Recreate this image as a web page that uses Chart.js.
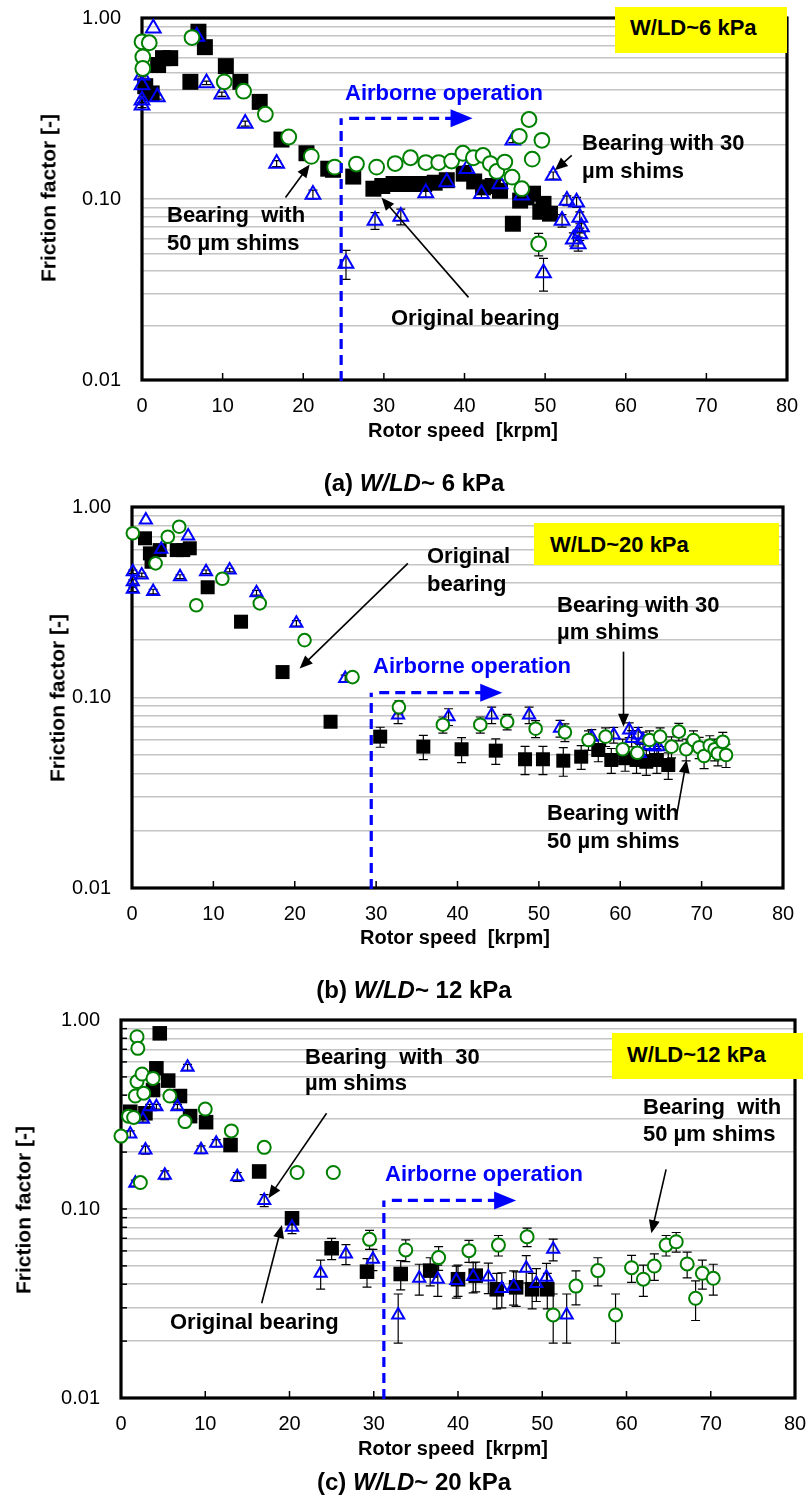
<!DOCTYPE html>
<html><head><meta charset="utf-8">
<script src="https://cdn.jsdelivr.net/npm/chart.js@4.4.1/dist/chart.umd.min.js"></script>
<style>
body{margin:0;background:#fff;width:811px;height:1502px;position:relative;overflow:hidden;font-family:"Liberation Sans",Arial,sans-serif;}
canvas{position:absolute;left:0;}
.t{position:absolute;white-space:pre;line-height:1;font-weight:bold;color:#000;transform:translateY(-50%);font-size:22px;z-index:3;}
.c{transform:translate(-50%,-50%);}
.yt{transform:translate(-50%,-50%) rotate(-90deg);}
.box{position:absolute;background:#ffff00;z-index:2;}
.blue{color:#0000ff}
</style></head><body>
<canvas id="cA" width="811" height="450" style="top:0px"></canvas>
<canvas id="cB" width="811" height="440" style="top:495px"></canvas>
<canvas id="cC" width="811" height="440" style="top:1005px"></canvas>

<!-- panel (a) texts -->
<div class="t yt" style="left:48px;top:198px;font-size:21px">Friction factor [-]</div>
<div class="t c" style="left:463px;top:430px;font-size:20px">Rotor speed  [krpm]</div>
<div class="t c" style="left:414px;top:483px;font-size:24px">(a) <i>W/LD</i>~ 6 kPa</div>
<div class="box" style="left:615px;top:7px;width:172px;height:46px"></div>
<div class="t" style="left:630px;top:28px">W/LD~6 kPa</div>
<div class="t blue" style="left:345px;top:93px">Airborne operation</div>
<div class="t" style="left:167px;top:215px">Bearing  with</div>
<div class="t" style="left:167px;top:243px">50 µm shims</div>
<div class="t" style="left:582px;top:143px">Bearing with 30</div>
<div class="t" style="left:582px;top:171px">µm shims</div>
<div class="t" style="left:391px;top:318px">Original bearing</div>

<!-- panel (b) texts -->
<div class="t yt" style="left:57px;top:698px;font-size:21px">Friction factor [-]</div>
<div class="t c" style="left:455px;top:937px;font-size:20px">Rotor speed  [krpm]</div>
<div class="t c" style="left:414px;top:990px;font-size:24px">(b) <i>W/LD</i>~ 12 kPa</div>
<div class="box" style="left:534px;top:523px;width:245px;height:42px"></div>
<div class="t" style="left:550px;top:545px">W/LD~20 kPa</div>
<div class="t blue" style="left:373px;top:666px">Airborne operation</div>
<div class="t" style="left:427px;top:556px">Original</div>
<div class="t" style="left:427px;top:584px">bearing</div>
<div class="t" style="left:557px;top:605px">Bearing with 30</div>
<div class="t" style="left:557px;top:632px">µm shims</div>
<div class="t" style="left:547px;top:813px">Bearing with</div>
<div class="t" style="left:547px;top:841px">50 µm shims</div>

<!-- panel (c) texts -->
<div class="t yt" style="left:23px;top:1210px;font-size:21px">Friction factor [-]</div>
<div class="t c" style="left:453px;top:1448px;font-size:20px">Rotor speed  [krpm]</div>
<div class="t c" style="left:414px;top:1482px;font-size:24px">(c) <i>W/LD</i>~ 20 kPa</div>
<div class="box" style="left:612px;top:1033px;width:191px;height:46px"></div>
<div class="t" style="left:627px;top:1055px">W/LD~12 kPa</div>
<div class="t blue" style="left:385px;top:1174px">Airborne operation</div>
<div class="t" style="left:305px;top:1057px">Bearing  with  30</div>
<div class="t" style="left:305px;top:1083px">µm shims</div>
<div class="t" style="left:170px;top:1322px">Original bearing</div>
<div class="t" style="left:643px;top:1107px">Bearing  with</div>
<div class="t" style="left:643px;top:1134px">50 µm shims</div>

<script>
// ---------- tick labels ----------
const xTickLabels = ['0','10','20','30','40','50','60','70','80'];
const yTickLabels = ['0.01','0.10','1.00'];
const yMajorValues = [0.01, 0.1, 1];

// ---------- panel (a) W/LD ~ 6 kPa ----------
const aOrigX = [0.4,1.2,2.0,2.6,3.5,6.0,7.0,7.8,10.4,12.2,14.6,17.3,20.4,23.1,23.7,26.2,28.7,29.8,31.2,32.5,33.8,35.0,36.3,37.8,39.9,41.2,42.3,43.5,44.4,46.0,46.9,47.7,48.5,49.4,49.8,50.6];
const aOrigY = [0.42,0.383,0.55,0.6,0.6,0.444,0.84,0.69,0.542,0.444,0.344,0.213,0.179,0.147,0.145,0.133,0.114,0.118,0.121,0.121,0.121,0.121,0.123,0.127,0.138,0.125,0.116,0.118,0.111,0.073,0.098,0.102,0.107,0.085,0.094,0.083];
const aOrigErr = [];
const a30X = [0,0,0,0,1.4,1.9,6.8,8.0,9.9,12.8,16.7,21.2,25.3,28.9,32.1,35.2,37.8,40.3,42.1,44.4,46.0,47.1,49.8,51.0,52.1,52.7,53.5,53.9,54.1,54.3,54.3,54.5];
const a30Y = [0.483,0.426,0.351,0.33,0.877,0.366,0.79,0.438,0.379,0.261,0.157,0.106,0.044,0.076,0.08,0.108,0.124,0.147,0.107,0.121,0.211,0.105,0.039,0.135,0.076,0.098,0.06,0.096,0.0565,0.079,0.064,0.07];
const a30Err = [0.01,0.01,0.01,0.01,0,0.01,0,0.01,0.01,0.008,0.006,0.006,0.008,0.008,0.008,0.006,0.006,0.006,0.006,0.006,0.006,0.006,0.008,0.006,0.006,0.006,0.005,0.006,0.005,0.006,0.005,0.005];
const a50X = [0,0.1,0.1,0.9,6.2,10.2,12.6,15.3,18.2,21.0,23.9,26.6,29.1,31.4,33.3,35.2,36.8,38.4,39.8,41.1,42.3,43.2,44.0,45.0,45.9,46.8,47.1,48.0,48.4,49.2,49.6];
const a50Y = [0.739,0.61,0.526,0.73,0.78,0.444,0.394,0.294,0.22,0.172,0.15,0.156,0.15,0.157,0.169,0.159,0.159,0.162,0.179,0.169,0.174,0.157,0.142,0.16,0.132,0.222,0.114,0.275,0.166,0.0565,0.211];
const a50Err = [0,0,0,0,0,0,0,0,0,0,0,0,0,0,0,0,0,0,0,0,0,0,0,0,0,0,0,0,0,0.008,0];

// ---------- panel (b) ----------
const bOrigX = [1.6,2.2,2.4,3.4,5.5,6.3,7.1,9.3,13.4,18.5,24.4,30.5,35.8,40.5,44.7,48.3,50.5,53.0,55.2,57.3,58.9,60.6,62.0,63.2,64.5,65.9];
const bOrigY = [0.685,0.571,0.516,0.594,0.594,0.594,0.607,0.379,0.25,0.136,0.0746,0.0623,0.0552,0.0535,0.0526,0.0474,0.0474,0.0466,0.0489,0.053,0.047,0.048,0.047,0.046,0.047,0.0442];
const bOrigErr = [0,0,0,0,0,0,0,0,0,0,0.004,0.0075,0.008,0.008,0.008,0.008,0.008,0.008,0.007,0.007,0.007,0.007,0.007,0.007,0.007,0.007];
const b30X = [0.1,0.1,0.1,1.2,1.7,2.6,3.6,5.9,6.9,9.1,12.0,15.3,20.2,26.2,32.7,38.9,44.2,48.8,52.6,56.5,59.2,61.1,61.4,62.2,62.4,62.8,63.6,64.2,64.7];
const b30Y = [0.457,0.405,0.37,0.44,0.855,0.36,0.6,0.431,0.705,0.457,0.467,0.355,0.245,0.126,0.081,0.0793,0.081,0.081,0.0689,0.0618,0.0636,0.0675,0.061,0.0636,0.0508,0.0598,0.056,0.0552,0.0552];
const b30Err = [0.01,0.01,0.01,0.01,0,0.01,0,0.01,0,0.01,0.01,0.01,0.008,0.005,0.008,0.008,0.008,0.008,0.007,0.006,0.006,0.006,0.006,0.006,0.006,0.006,0.006,0.006,0.006];
const b50X = [0.1,2.9,4.4,5.8,7.9,11.1,15.7,21.2,27.1,32.8,38.2,42.8,46.1,49.6,53.2,56.1,58.2,60.3,62.1,63.6,64.9,66.3,67.2,68.1,69.0,69.7,70.3,71.0,71.6,72.0,72.6,73.0];
const b50Y = [0.728,0.506,0.698,0.788,0.305,0.42,0.312,0.2,0.128,0.089,0.072,0.072,0.0746,0.0686,0.0657,0.0598,0.0623,0.0535,0.0513,0.0598,0.0623,0.0552,0.0662,0.0535,0.0598,0.0548,0.0493,0.056,0.0535,0.0508,0.0586,0.0499];
const b50Err = [0,0,0,0,0,0,0,0,0,0.007,0.007,0.007,0.007,0.007,0.007,0.007,0.007,0.007,0.007,0.007,0.007,0.007,0.007,0.007,0.007,0.007,0.007,0.007,0.007,0.007,0.007,0.007];

// ---------- panel (c) ----------
const cOrigX = [1.1,2.9,3.8,4.2,4.6,5.6,7.0,8.2,10.1,13.0,16.4,20.3,25.0,29.2,33.2,36.7,40.0,42.1,44.6,46.9,48.8,50.6];
const cOrigY = [0.327,0.321,0.426,0.555,0.85,0.478,0.396,0.31,0.288,0.218,0.158,0.0893,0.062,0.0466,0.0453,0.0472,0.0425,0.0444,0.0376,0.0385,0.0376,0.0376];
const cOrigErr = [0,0,0,0,0,0,0,0,0,0,0,0.005,0.008,0.008,0.008,0.008,0.008,0.008,0.008,0.008,0.008,0.008];
const c30X = [1.1,1.7,2.6,2.9,3.4,4.2,5.2,6.7,7.9,9.5,11.3,13.8,17.0,20.3,23.7,26.7,29.9,32.9,35.4,37.6,39.8,41.8,43.6,45.2,46.6,48.1,49.3,50.5,51.3,52.9];
const c30Y = [0.249,0.137,0.298,0.205,0.348,0.348,0.151,0.348,0.562,0.206,0.223,0.148,0.111,0.08,0.0457,0.0578,0.0542,0.0275,0.043,0.0425,0.0418,0.044,0.0437,0.038,0.039,0.0486,0.0404,0.0435,0.0612,0.0275];
const c30Err = [0.01,0.005,0.01,0.01,0.01,0.01,0.008,0.01,0.02,0.01,0.01,0.008,0.008,0.006,0.008,0.007,0.007,0.008,0.008,0.008,0.008,0.008,0.008,0.008,0.008,0.008,0.008,0.008,0.008,0.008];
const c50X = [0,0.9,1.5,1.7,1.9,1.9,2.0,2.3,2.5,2.7,3.8,5.8,7.6,10.0,13.1,17.0,20.9,25.2,29.5,33.8,37.7,41.3,44.8,48.2,51.3,54.0,56.6,58.7,60.6,62.0,63.3,64.7,65.9,67.2,68.2,69.0,70.3];
const c50Y = [0.243,0.31,0.305,0.396,0.816,0.472,0.708,0.138,0.518,0.41,0.491,0.396,0.29,0.338,0.259,0.212,0.156,0.156,0.0691,0.0607,0.0553,0.0602,0.0644,0.0713,0.0275,0.0391,0.0472,0.0275,0.0489,0.0425,0.0499,0.0644,0.0671,0.0512,0.0337,0.0457,0.043];
const c50Err = [0,0,0,0,0,0,0,0,0,0,0,0,0,0,0,0,0,0,0.008,0.008,0.008,0.008,0.008,0.008,0.008,0.008,0.008,0.008,0.008,0.008,0.008,0.008,0.008,0.008,0.008,0.008,0.008];

// ---------- airborne threshold (speed, friction at arrow, arrow end speed) ----------
const airborneA = [24.7, 0.279, 41.0];
const airborneB = [29.4, 0.106, 45.5];
const airborneC = [31.2, 0.111, 46.9];

// ---------- annotation arrows [fromX, fromY, toX, toY] in data units ----------
const arrowsA = [[17.8,0.102,20.8,0.155],[53.3,0.174,51.2,0.144],[40.5,0.0286,29.7,0.102]];
const arrowsB = [[33.9,0.506,20.6,0.142],[60.4,0.174,60.4,0.0703],[66.9,0.0237,68.15,0.047]];
const arrowsC = [[24.4,0.321,17.5,0.114],[16.7,0.0317,19.1,0.0823],[64.7,0.162,62.95,0.0744]];

// ---------- helpers ----------
const toPts = (xs, ys) => xs.map((x, i) => ({x: x, y: ys[i]}));
const yTickValues = [];
[0.01, 0.1].forEach(d => { for (let m = 1; m < 10; m++) yTickValues.push(+(m * d).toPrecision(3)); });
yTickValues.push(1);

function arrowHead(ctx, x1, y1, x2, y2, len, half) {
  const a = Math.atan2(y2 - y1, x2 - x1);
  const c = Math.cos(a), s = Math.sin(a);
  ctx.beginPath();
  ctx.moveTo(x2, y2);
  ctx.lineTo(x2 - len * c + half * s, y2 - len * s - half * c);
  ctx.lineTo(x2 - len * c - half * s, y2 - len * s + half * c);
  ctx.closePath();
  ctx.fill();
}

function makeChart(id, p) {
  const overlay = {
    id: 'overlay',
    beforeDatasetsDraw(chart) {
      const {ctx, chartArea: ca} = chart;
      ctx.save();
      ctx.strokeStyle = '#000';
      ctx.lineWidth = 3.2;
      ctx.strokeRect(ca.left, ca.top, ca.right - ca.left, ca.bottom - ca.top);
      const xs = chart.scales.x;
      ctx.lineWidth = 1.5;
      for (let v = 10; v < 80; v += 10) {
        const px = xs.getPixelForValue(v);
        ctx.beginPath(); ctx.moveTo(px, ca.bottom); ctx.lineTo(px, ca.bottom - 7); ctx.stroke();
      }
      if (p.yMinorTicks) {
        const ys = chart.scales.y;
        yTickValues.forEach(v => {
          const py = ys.getPixelForValue(v);
          ctx.beginPath(); ctx.moveTo(ca.left, py); ctx.lineTo(ca.left + 6, py); ctx.stroke();
        });
      }
      ctx.restore();
    },
    afterDatasetDraw(chart, args) {
      if (args.index !== 2) return;
      const {ctx} = chart;
      const xs = chart.scales.x, ys = chart.scales.y;
      ctx.save();
      ctx.strokeStyle = '#000';
      ctx.lineWidth = 1.2;
      p.series.forEach(s => {
        s.err.forEach((e, i) => {
          if (!e) return;
          const px = xs.getPixelForValue(s.x[i]);
          const top = ys.getPixelForValue(s.y[i] + e);
          const bot = ys.getPixelForValue(Math.max(s.y[i] - e, 0.0101));
          ctx.beginPath();
          ctx.moveTo(px, top); ctx.lineTo(px, bot);
          ctx.moveTo(px - 4.5, top); ctx.lineTo(px + 4.5, top);
          ctx.moveTo(px - 4.5, bot); ctx.lineTo(px + 4.5, bot);
          ctx.stroke();
        });
      });
      ctx.restore();
    },
    afterDatasetsDraw(chart) {
      const {ctx, chartArea: ca} = chart;
      const xs = chart.scales.x, ys = chart.scales.y;
      ctx.save();
      const [ax, ay, aend] = p.airborne;
      const px = xs.getPixelForValue(ax), py = ys.getPixelForValue(ay), pe = xs.getPixelForValue(aend);
      ctx.strokeStyle = '#0000ff'; ctx.fillStyle = '#0000ff';
      ctx.lineWidth = 3.2;
      ctx.setLineDash([10, 6]);
      ctx.beginPath(); ctx.moveTo(px, ca.bottom + 1); ctx.lineTo(px, py); ctx.stroke();
      ctx.beginPath(); ctx.moveTo(px + 8, py); ctx.lineTo(pe - 20, py); ctx.stroke();
      ctx.setLineDash([]);
      arrowHead(ctx, px, py, pe, py, 22, 9);
      ctx.strokeStyle = '#000'; ctx.fillStyle = '#000'; ctx.lineWidth = 1.6;
      p.arrows.forEach(a => {
        const x1 = xs.getPixelForValue(a[0]), y1 = ys.getPixelForValue(a[1]);
        const x2 = xs.getPixelForValue(a[2]), y2 = ys.getPixelForValue(a[3]);
        const ang = Math.atan2(y2 - y1, x2 - x1);
        ctx.beginPath(); ctx.moveTo(x1, y1); ctx.lineTo(x2 - 8 * Math.cos(ang), y2 - 8 * Math.sin(ang)); ctx.stroke();
        arrowHead(ctx, x1, y1, x2, y2, 13, 5.5);
      });
      ctx.restore();
    }
  };

  const [sOrig, s30, s50] = p.series;
  return new Chart(document.getElementById(id), {
    type: 'scatter',
    data: {
      datasets: [
        {label: 'Bearing with 50 µm shims', data: toPts(s50.x, s50.y), pointStyle: 'circle', pointRadius: p.rCircle,
         pointBackgroundColor: '#ffffff', pointBorderColor: '#008000', pointBorderWidth: 2, clip: false},
        {label: 'Bearing with 30 µm shims', data: toPts(s30.x, s30.y), pointStyle: 'triangle', pointRadius: p.rTri,
         pointBackgroundColor: 'rgba(0,0,0,0)', pointBorderColor: '#0000ff', pointBorderWidth: 2, clip: false},
        {label: 'Original bearing', data: toPts(sOrig.x, sOrig.y), pointStyle: 'rect', pointRadius: p.rRect,
         pointBackgroundColor: '#000000', pointBorderColor: '#000000', pointBorderWidth: 0, clip: false}
      ]
    },
    options: {
      responsive: false, animation: false, devicePixelRatio: 1, events: [],
      layout: {padding: {left: 0, top: p.padTop, right: p.padRight, bottom: 0}},
      plugins: {legend: {display: false}, tooltip: {enabled: false}},
      scales: {
        x: {
          type: 'linear', min: 0, max: 80,
          afterFit: s => { s.height = p.xH; s.paddingLeft = 0; s.paddingRight = 0; },
          ticks: {stepSize: 10, color: '#000', font: {family: 'Liberation Sans', size: 20}, padding: p.xPad,
                  callback: (v) => xTickLabels[Math.round(v / 10)]},
          grid: {display: false, drawTicks: false},
          border: {display: false}
        },
        y: {
          type: 'logarithmic', min: 0.01, max: 1,
          afterFit: s => { s.width = p.yW; s.paddingTop = 0; s.paddingBottom = 0; },
          afterBuildTicks: s => { s.ticks = yTickValues.map(v => ({value: v})); },
          ticks: {autoSkip: false, color: '#000', font: {family: 'Liberation Sans', size: 20}, padding: p.yPad,
                  callback: (v) => {
                    const k = yMajorValues.findIndex(m => Math.abs(v - m) / m < 1e-6);
                    return k >= 0 ? yTickLabels[k] : '';
                  }},
          grid: {color: '#c4c4c4', lineWidth: 1.5, drawTicks: false},
          border: {display: false}
        }
      }
    },
    plugins: [overlay]
  });
}

makeChart('cA', {
  series: [{x: aOrigX, y: aOrigY, err: aOrigErr}, {x: a30X, y: a30Y, err: a30Err}, {x: a50X, y: a50Y, err: a50Err}],
  airborne: airborneA, arrows: arrowsA,
  padTop: 18, padRight: 24, xH: 70, yW: 142, xPad: 14, yPad: 21,
  rCircle: 7.4, rTri: 8.5, rRect: 11.3, yMinorTicks: false
});
makeChart('cB', {
  series: [{x: bOrigX, y: bOrigY, err: bOrigErr}, {x: b30X, y: b30Y, err: b30Err}, {x: b50X, y: b50Y, err: b50Err}],
  airborne: airborneB, arrows: arrowsB,
  padTop: 12, padRight: 28, xH: 47, yW: 132, xPad: 14, yPad: 21,
  rCircle: 6.3, rTri: 7, rRect: 9.9, yMinorTicks: false
});
makeChart('cC', {
  series: [{x: cOrigX, y: cOrigY, err: cOrigErr}, {x: c30X, y: c30Y, err: c30Err}, {x: c50X, y: c50Y, err: c50Err}],
  airborne: airborneC, arrows: arrowsC,
  padTop: 15, padRight: 16, xH: 47, yW: 121, xPad: 14, yPad: 21,
  rCircle: 6.5, rTri: 7, rRect: 10.3, yMinorTicks: true
});
</script>
</body></html>
